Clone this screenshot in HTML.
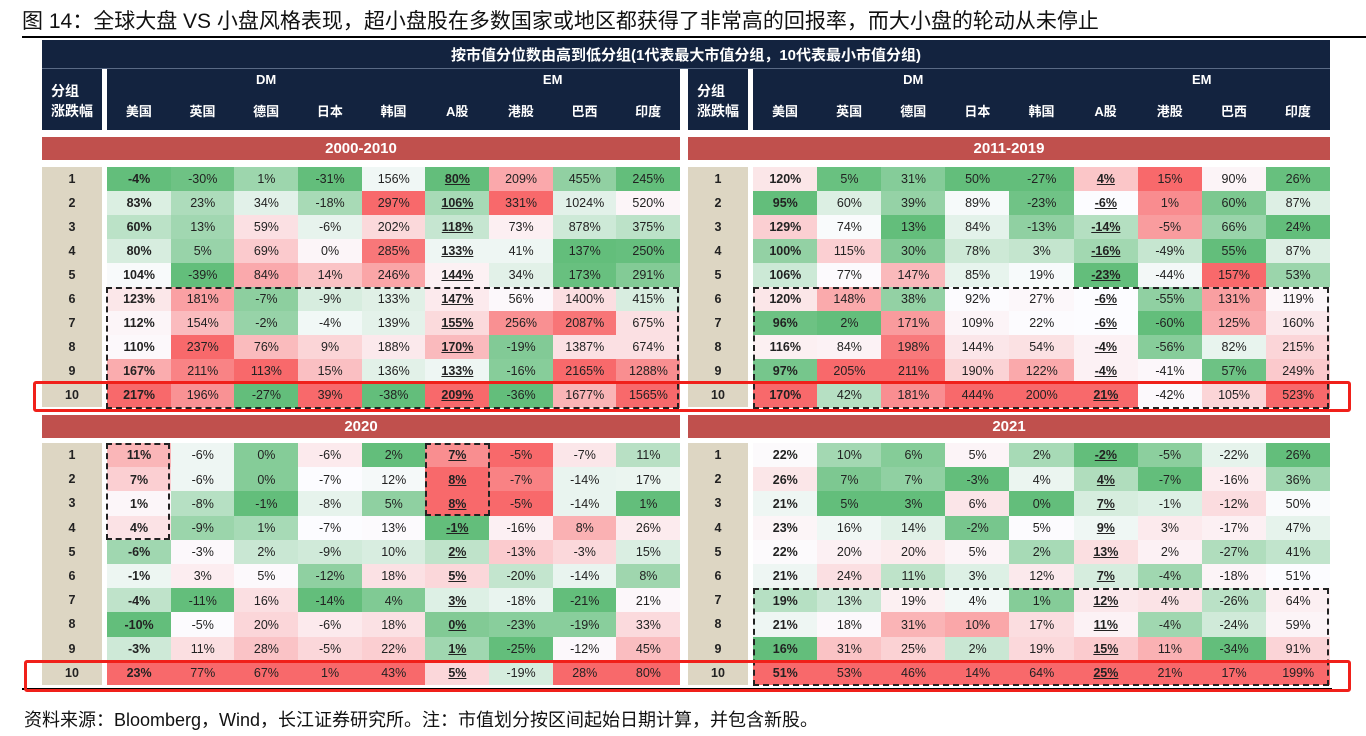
<!DOCTYPE html>
<html><head><meta charset="utf-8">
<style>
body{margin:0;width:1366px;height:736px;background:#fff;position:relative;overflow:hidden;font-family:"Liberation Sans","Noto Sans CJK SC",sans-serif;}
.a{position:absolute;box-sizing:border-box;}
.c{display:flex;align-items:center;justify-content:center;font-size:12.5px;color:#222;}
.hd{color:#fff;font-weight:bold;font-size:13px;}
</style></head><body>
<div class="a" style="left:22px;top:10px;font-size:21px;color:#111;white-space:nowrap;line-height:24px;">图 14：全球大盘 VS 小盘风格表现，超小盘股在多数国家或地区都获得了非常高的回报率，而大小盘的轮动从未停止</div>
<div class="a" style="left:22px;top:36px;width:1344px;height:2px;background:#000;"></div>
<div class="a" style="left:42px;top:40px;width:1288px;height:90px;background:#13233f;"></div>
<div class="a c hd" style="left:42px;top:40px;width:1288px;height:28px;font-size:15px;">按市值分位数由高到低分组(1代表最大市值分组，10代表最小市值分组)</div>
<div class="a" style="left:42px;top:68px;width:1288px;height:1px;background:#5a6a85;"></div>
<div class="a" style="left:24px;top:706px;font-size:18px;color:#111;white-space:nowrap;">资料来源：Bloomberg，Wind，长江证券研究所。注：市值划分按区间起始日期计算，并包含新股。</div>
<div id="root"></div>
<script>
const countries=["美国","英国","德国","日本","韩国","A股","港股","巴西","印度"];
const groups=["1","2","3","4","5","6","7","8","9","10"];
const periods=["2000-2010","2011-2019","2020","2021"];
const p2000=[[-4,-30,1,-31,156,80,209,455,245],[83,23,34,-18,297,106,331,1024,520],[60,13,59,-6,202,118,73,878,375],[80,5,69,0,285,133,41,137,250],[104,-39,84,14,246,144,34,173,291],[123,181,-7,-9,133,147,56,1400,415],[112,154,-2,-4,139,155,256,2087,675],[110,237,76,9,188,170,-19,1387,674],[167,211,113,15,136,133,-16,2165,1288],[217,196,-27,39,-38,209,-36,1677,1565]];
const p2011=[[120,5,31,50,-27,4,15,90,26],[95,60,39,89,-23,-6,1,60,87],[129,74,13,84,-13,-14,-5,66,24],[100,115,30,78,3,-16,-49,55,87],[106,77,147,85,19,-23,-44,157,53],[120,148,38,92,27,-6,-55,131,119],[96,2,171,109,22,-6,-60,125,160],[116,84,198,144,54,-4,-56,82,215],[97,205,211,190,122,-4,-41,57,249],[170,42,181,444,200,21,-42,105,523]];
const p2020=[[11,-6,0,-6,2,7,-5,-7,11],[7,-6,0,-7,12,8,-7,-14,17],[1,-8,-1,-8,5,8,-5,-14,1],[4,-9,1,-7,13,-1,-16,8,26],[-6,-3,2,-9,10,2,-13,-3,15],[-1,3,5,-12,18,5,-20,-14,8],[-4,-11,16,-14,4,3,-18,-21,21],[-10,-5,20,-6,18,0,-23,-19,33],[-3,11,28,-5,22,1,-25,-12,45],[23,77,67,1,43,5,-19,28,80]];
const p2021=[[22,10,6,5,2,-2,-5,-22,26],[26,7,7,-3,4,4,-7,-16,36],[21,5,3,6,0,7,-1,-12,50],[23,16,14,-2,5,9,3,-17,47],[22,20,20,5,2,13,2,-27,41],[21,24,11,3,12,7,-4,-18,51],[19,13,19,4,1,12,4,-26,64],[21,18,31,10,17,11,-4,-24,59],[16,31,25,2,19,15,11,-34,91],[51,53,46,14,64,25,21,17,199]];
const tables=[p2000,p2011,p2020,p2021];

const root=document.getElementById('root');
function mk(cls,style,text){const d=document.createElement('div');d.className=cls;d.style.cssText=style;if(text!==undefined)d.textContent=text;root.appendChild(d);return d;}
const G=[99,190,123],W=[252,252,255],R=[248,105,107];
function mix(a,b,t){return 'rgb('+a.map((v,i)=>Math.round(v+(b[i]-v)*t)).join(',')+')';}
function color(v,col){const s=col.slice().sort((a,b)=>a-b);const mn=s[0],mx=s[s.length-1],md=(s[4]+s[5])/2;
 if(v<=md){return mix(G,W,md===mn?1:(v-mn)/(md-mn));}return mix(W,R,mx===md?0:(v-md)/(mx-md));}

const panelX=[42,688];
const panelW=[638,642];
const colWs=[(680-107)/9,(1330-753)/9];
const bandY=[137,415];
const rowY0=[167,443];
const rowH=[24,24.2];
panelX.forEach((px,pi)=>{
 const colW=colWs[pi];
 let gap=mk('a','left:'+(px+60)+'px;top:69px;width:5px;height:61px;background:#fff;');
 
 
 let g=mk('a c hd','left:'+px+'px;top:72px;width:60px;height:58px;flex-direction:column;line-height:20px;font-size:14px;');
 g.innerHTML='分组<br>涨跌幅';
 
 
 const dx=px+65;
 let dm=mk('a c hd','left:'+dx+'px;top:70px;width:'+(colW*5)+'px;height:18px;','DM');
 
 
 let em=mk('a c hd','left:'+(dx+colW*5)+'px;top:70px;width:'+(colW*4)+'px;height:18px;','EM');
 
 
 countries.forEach((c,ci)=>{
  let h=mk('a c hd','left:'+(dx+colW*ci)+'px;top:100px;width:'+colW+'px;height:20px;',c);
  
  
 });
 if(pi===0){let sep=mk('a','left:680px;top:69px;width:8px;height:61px;background:#fff;');
  
  }
});
tables.forEach((tb,ti)=>{
 const pi=ti%2,px=panelX[pi],vi=Math.floor(ti/2),colW=colWs[pi];
 const by=bandY[vi];
 let band=mk('a c','left:'+px+'px;top:'+by+'px;width:'+panelW[pi]+'px;height:23px;background:#c0504d;color:#fff;font-weight:bold;font-size:15px;',periods[ti]);
 
 
 const y0=rowY0[vi],rh=rowH[vi];
 let gc=mk('a','left:'+px+'px;top:'+y0+'px;width:60px;height:'+(rh*10)+'px;background:#ddd6c3;');
 
 
 groups.forEach((gname,ri)=>{
  let gl=mk('a c','left:'+px+'px;top:'+(y0+rh*ri)+'px;width:60px;height:'+rh+'px;font-weight:bold;',gname);
  
  
  countries.forEach((c,ci)=>{
   const col=tb.map(r=>r[ci]);const v=tb[ri][ci];
   let cell=mk('a c','left:'+(px+65+colW*ci)+'px;top:'+(y0+rh*ri)+'px;width:'+(colW+0.5)+'px;height:'+(rh+0.5)+'px;background:'+color(v,col)+';');
   
   
   const sp=document.createElement('span');sp.textContent=v+'%';
   if(ci===0)sp.style.fontWeight='bold';
   if(ci===5){sp.style.fontWeight='bold';sp.style.textDecoration='underline';}
   cell.appendChild(sp);
  });
 });
});
function dash(x,y,w,h,name){let d=mk('a','left:'+x+'px;top:'+y+'px;width:'+w+'px;height:'+h+'px;border:2px dashed #222;');
 
 }
dash(106,287,573,122,'dashed-box-2000');
dash(753,287,576,122,'dashed-box-2011');
dash(106,443,64,97,'dashed-box-2020-us');
dash(425,443,65,73,'dashed-box-2020-a');
dash(753,588,576,98,'dashed-box-2021');
let bl=mk('a','left:22px;top:688px;width:1310px;height:2px;background:#000;');


function red(x,y,w,h,name){let d=mk('a','left:'+x+'px;top:'+y+'px;width:'+w+'px;height:'+h+'px;border:3px solid #f0201a;border-radius:3px;');
 
 }
red(33,381,1318,31,'highlight-row10-top');
red(24,660,1327,32,'highlight-row10-bottom');
</script>
</body></html>
